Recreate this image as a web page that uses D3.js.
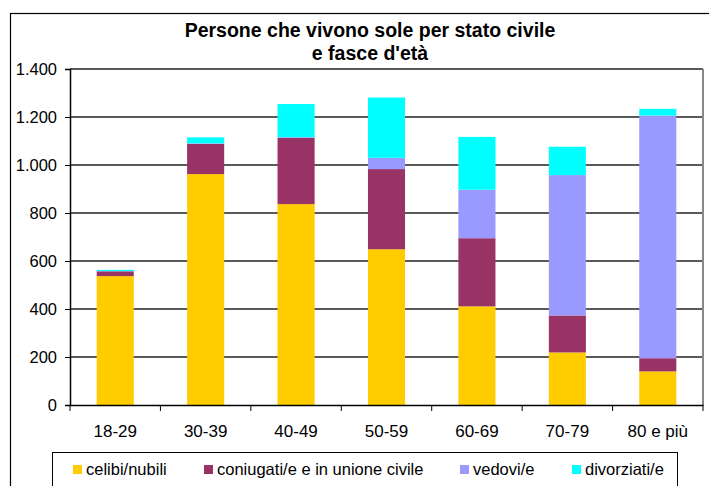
<!DOCTYPE html>
<html><head><meta charset="utf-8">
<script src="https://cdn.jsdelivr.net/npm/d3@7"></script>
<style>
html,body{margin:0;padding:0;background:#fff;}
svg{display:block;font-family:Arial,"Liberation Sans",sans-serif;}
</style></head>
<body><svg id="c" width="709" height="486"></svg>
<script>
const categories = ["18-29","30-39","40-49","50-59","60-69","70-79","80 e più"];
const seriesNames = ["celibi/nubili","coniugati/e e in unione civile","vedovi/e","divorziati/e"];
const celibi     = [537, 962, 837, 649, 411, 219, 140];
const coniugati  = [20, 126, 276, 334, 284, 154, 55];
const vedovi     = [1, 2, 3, 47, 202, 585, 1011];
const divorziati = [5, 25, 138, 251, 220, 118, 28];
const colors = ["#FFCC00","#993366","#9999FF","#00FFFF"];
const yTicks = [0,200,400,600,800,1000,1200,1400];

const svg = d3.select("#c");
const L = 70, R = 703, T = 69, B = 405;

const data = categories.map((c,i)=>({cat:c, s0:celibi[i], s1:coniugati[i], s2:vedovi[i], s3:divorziati[i]}));
const stack = d3.stack().keys(["s0","s1","s2","s3"])(data);

const x = d3.scaleBand().domain(categories).range([L,R]).paddingInner(0.59).paddingOuter(0.295);
const y = d3.scaleLinear().domain([0,1400]).range([B,T]);
const it = d3.formatLocale({decimal:",",thousands:".",grouping:[3],currency:["€",""]}).format(",d");

// outer frame
svg.append("rect").attr("x",10.5).attr("y",13.5).attr("width",720).attr("height",500)
  .attr("fill","none").attr("stroke","#000").attr("stroke-width",1.2);

// title
const title = svg.append("text").attr("text-anchor","middle").attr("font-weight","bold")
  .attr("font-size",19.5).attr("fill","#000");
title.append("tspan").attr("x",370).attr("y",37).text("Persone che vivono sole per stato civile");
title.append("tspan").attr("x",370).attr("y",60).text("e fasce d'età");

// gridlines
svg.append("g").selectAll("line").data(yTicks.slice(1)).join("line")
  .attr("x1",L).attr("x2",R).attr("y1",d=>y(d)).attr("y2",d=>y(d))
  .attr("stroke","#5a5a5a").attr("stroke-width",2);

// plot right border
svg.append("line").attr("x1",R).attr("x2",R).attr("y1",T).attr("y2",B)
  .attr("stroke","#888").attr("stroke-width",2);

// bars
svg.append("g").selectAll("g").data(stack).join("g")
  .attr("fill",(d,i)=>colors[i])
  .selectAll("rect").data(d=>d).join("rect")
  .attr("x",d=>x(d.data.cat)).attr("width",x.bandwidth())
  .attr("y",d=>y(d[1])).attr("height",d=>y(d[0])-y(d[1]));

// y axis
const ya = svg.append("g").attr("transform",`translate(${L},0)`)
  .call(d3.axisLeft(y).tickValues(yTicks).tickFormat(it).tickSize(5).tickPadding(8));
ya.select(".domain").attr("stroke","#000").attr("stroke-width",1.5);
ya.selectAll(".tick line").attr("stroke","#000");
ya.selectAll("text").attr("font-size",16.5).attr("font-family","Arial,'Liberation Sans',sans-serif").attr("fill","#000");

// x axis
const xa = svg.append("g").attr("transform",`translate(0,${B})`)
  .call(d3.axisBottom(x).tickSize(0).tickPadding(20));
xa.select(".domain").attr("stroke","#000").attr("stroke-width",1.5);
xa.selectAll("text").attr("font-size",17).attr("font-family","Arial,'Liberation Sans',sans-serif").attr("fill","#000");
// boundary ticks
const step = x.step();
svg.append("g").selectAll("line").data(d3.range(categories.length+1)).join("line")
  .attr("x1",i=>L+i*step).attr("x2",i=>L+i*step).attr("y1",B).attr("y2",B+6)
  .attr("stroke","#000").attr("stroke-width",1);

// legend
svg.append("rect").attr("x",52.5).attr("y",452.5).attr("width",625).attr("height",45)
  .attr("fill","#fff").attr("stroke","#000").attr("stroke-width",1);
const legX = [73, 204, 460, 572];
const lg = svg.append("g").selectAll("g").data(seriesNames).join("g")
  .attr("transform",(d,i)=>`translate(${legX[i]},465)`);
lg.append("rect").attr("width",9).attr("height",9).attr("fill",(d,i)=>colors[i]);
lg.append("text").attr("x",13).attr("y",10).attr("font-size",16.5).attr("fill","#000").text(d=>d);
</script>
</body></html>
